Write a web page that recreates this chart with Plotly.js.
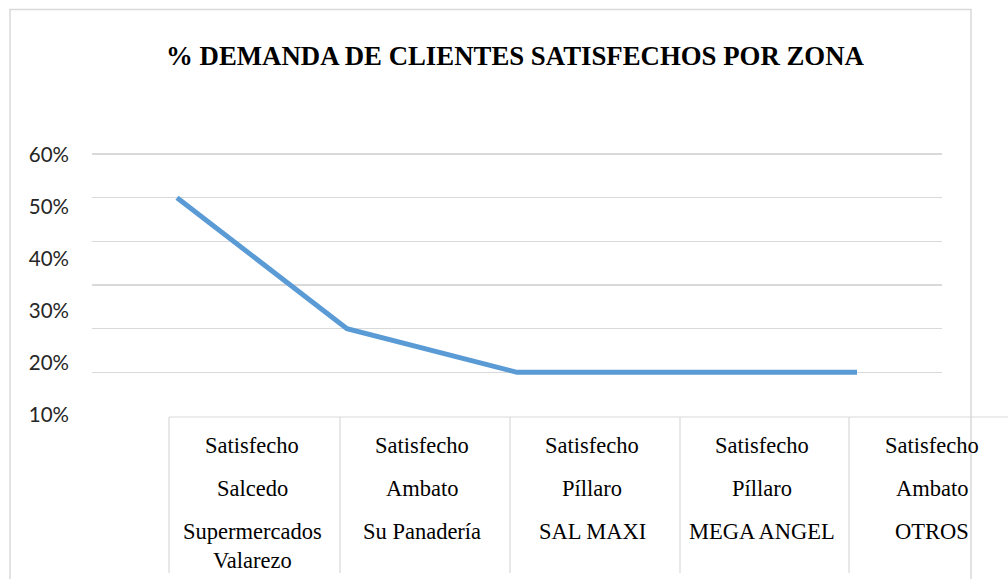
<!DOCTYPE html>
<html>
<head>
<meta charset="utf-8">
<script src="https://cdn.plot.ly/plotly-3.0.1.min.js"></script>
<style>html,body{margin:0;padding:0;background:#fff;}#chart{width:1008px;height:579px;}</style>
</head>
<body>
<div id="chart"></div>
<script>
// ---- data ----
var statusRow = ["Satisfecho", "Satisfecho", "Satisfecho", "Satisfecho", "Satisfecho"];
var zones = ["Salcedo", "Ambato", "Píllaro", "Píllaro", "Ambato"];
var clients = ["Supermercados<br>Valarezo", "Su Panadería", "SAL MAXI", "MEGA ANGEL", "OTROS"];
var values = [0.50, 0.20, 0.10, 0.10, 0.10];
var yTickVals = [0.1, 0.2, 0.3, 0.4, 0.5, 0.6];
var yTickText = ["10%", "20%", "30%", "40%", "50%", "60%"];
var titleText = "% DEMANDA DE CLIENTES SATISFECHOS POR ZONA";

var categories = clients.map(function (c, i) {
  return statusRow[i] + " " + zones[i] + " " + c.replace("<br>", " ");
});

// pixel helpers for layout (plot area: left 92, width 850, top 150, height 266)
var L = 92, W = 850, T = 150, H = 266;
function px(p) { return (p - L) / W; }
function py(p) { return (T + H - p) / H; }

var traces = [
  {
    type: "scatter", mode: "lines", x: categories, y: values,
    line: { color: "#5B9BD5", width: 5 },
    hoverinfo: "x+y", showlegend: false
  },
  {
    type: "scatter", mode: "lines", x: categories, y: values, yaxis: "y2",
    line: { color: "rgba(0,0,0,0)", width: 0 }, hoverinfo: "skip", showlegend: false
  }
];

var annotations = [];
var rows = [statusRow, zones, clients];
var rowTops = [430.8, 473.8, 516.8];
rows.forEach(function (row, r) {
  row.forEach(function (txt, i) {
    annotations.push({
      x: i, xref: "x", xshift: 75,
      y: py(rowTops[r]), yref: "paper", yanchor: "top", xanchor: "center",
      text: txt, showarrow: false, align: "center",
      font: { family: "Liberation Serif, Times New Roman, serif", size: 22.5, color: "#000" }
    });
  });
});

var gray = "#d9d9d9";
var shapes = [
  { type: "rect", xref: "paper", yref: "paper", x0: px(10), x1: px(971), y0: py(590), y1: py(9.5),
    line: { color: gray, width: 1.5 }, fillcolor: "rgba(0,0,0,0)", layer: "below" },
  { type: "line", xref: "paper", yref: "paper", x0: px(169), x1: px(1012), y0: py(417), y1: py(417),
    line: { color: gray, width: 1.2 } }
];
[169, 340, 510, 680, 849].forEach(function (d) {
  shapes.push({ type: "line", xref: "paper", yref: "paper", x0: px(d), x1: px(d), y0: py(417), y1: py(573),
    line: { color: gray, width: 1.2 } });
});

var layout = {
  width: 1008, height: 579,
  margin: { l: L, r: 1008 - L - W, t: T, b: 579 - T - H, pad: 0 },
  paper_bgcolor: "#fff", plot_bgcolor: "rgba(0,0,0,0)",
  title: {
    text: titleText, x: 515 / 1008, xanchor: "center", xref: "container",
    y: 1 - 55.7 / 579, yanchor: "middle", yref: "container",
    font: { family: "Liberation Serif, Times New Roman, serif", size: 26.8, color: "#000", weight: "bold" }
  },
  xaxis: {
    type: "category", range: [-0.5, 4.5], showgrid: false, zeroline: false, showline: false,
    showticklabels: false, ticks: "", fixedrange: true
  },
  yaxis: {
    range: [0, 0.6 * 266 / 262], tickvals: yTickVals, showgrid: true, gridcolor: gray, gridwidth: 1.5,
    zeroline: false, showline: false, showticklabels: false, ticks: "", fixedrange: true
  },
  yaxis2: {
    overlaying: "y", anchor: "x", side: "left", range: [0.0981, 0.6096],
    tickvals: yTickVals, ticktext: yTickText, showgrid: false, zeroline: false, showline: false,
    ticks: "", ticklabelstandoff: 22,
    tickfont: { family: "Lato, Carlito, Calibri, sans-serif", size: 20.5, color: "#262626" }, fixedrange: true
  },
  shapes: shapes,
  annotations: annotations,
  showlegend: false
};

Plotly.newPlot("chart", traces, layout, { displayModeBar: false, staticPlot: true });
</script>
</body>
</html>
